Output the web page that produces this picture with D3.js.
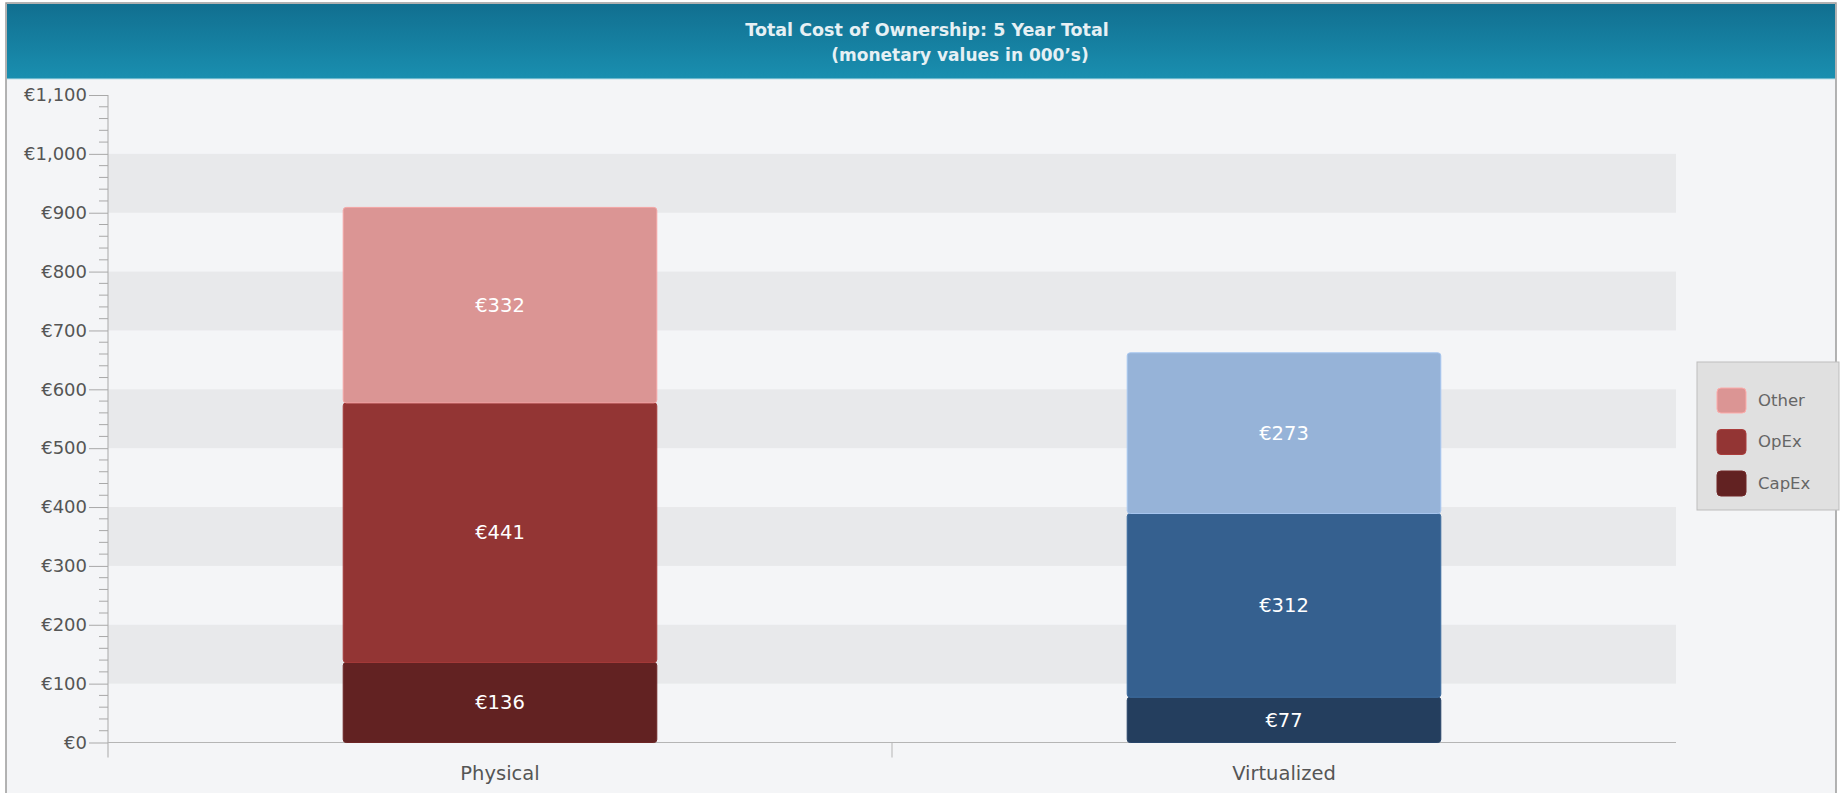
<!DOCTYPE html>
<html>
<head>
<meta charset="utf-8">
<script src="https://cdn.jsdelivr.net/npm/d3@7"></script>
<style>
body { margin: 0; background: #ffffff; }
text { font-family: "DejaVu Sans", sans-serif; }
</style>
</head>
<body>
<svg width="1845" height="793"></svg>
<script>
var svg = d3.select('svg')

var width = +svg.attr('width')
var height = +svg.attr('height')

// data
var categories = ['Physical', 'Virtualized']
var seriesNames = ['CapEx', 'OpEx', 'Other']
var capex = [136, 77]
var opex = [441, 312]
var other = [332, 273]
var yTicks = [0, 100, 200, 300, 400, 500, 600, 700, 800, 900, 1000, 1100]
var legendOrder = ['Other', 'OpEx', 'CapEx']

// [category][series] colours
var colors = {
	Physical: {CapEx: '#622222', OpEx: '#933534', Other: '#db9594'},
	Virtualized: {CapEx: '#243e5e', OpEx: '#35608f', Other: '#96b3d8'}
}

var rows = categories.map(function(c, i) {
	return {cat: c, CapEx: capex[i], OpEx: opex[i], Other: other[i]}
})
var stacked = d3.stack().keys(seriesNames)(rows)

var plot = {left: 108, right: 1676, top: 95, bottom: 742.5}

var x = d3.scaleBand().domain(categories).range([plot.left, plot.right]).padding(0)
var y = d3.scaleLinear().domain([0, 1100]).range([plot.bottom, plot.top])

var fmt = function(v) { return '€' + d3.format(',')(v) }

// background and frame
svg.append('rect').attr('x', 6).attr('y', 3).attr('width', 1830).attr('height', 800)
	.attr('fill', '#f4f5f7').attr('stroke', '#9a9a9a').attr('stroke-width', 1.5)

//Header band
var grad = svg.append('defs').append('linearGradient').attr('id', 'hdr')
	.attr('x1', 0).attr('y1', 0).attr('x2', 0).attr('y2', 1)
grad.append('stop').attr('offset', '0%').attr('stop-color', '#116f90')
grad.append('stop').attr('offset', '100%').attr('stop-color', '#1a8fb0')
svg.append('rect').attr('x', 7).attr('y', 4).attr('width', 1828).attr('height', 75)
	.attr('fill', 'url(#hdr)')
svg.append('line').attr('x1', 7).attr('x2', 1835).attr('y1', 79).attr('y2', 79)
	.attr('stroke', '#bfe0ea').attr('stroke-width', 1)

svg.append('text').attr('x', 927).attr('y', 36).attr('text-anchor', 'middle')
	.attr('fill', '#e6f0f4').attr('font-size', 17.5).attr('font-weight', 'bold')
	.text('Total Cost of Ownership: 5 Year Total')
svg.append('text').attr('x', 960).attr('y', 61).attr('text-anchor', 'middle')
	.attr('fill', '#e6f0f4').attr('font-size', 17).attr('font-weight', 'bold')
	.text('(monetary values in 000\u2019s)')

//Alternating grid bands
var bands = yTicks.filter(function(t, i) { return i % 2 == 1 && t < 1100 })
svg.append('g').selectAll('rect').data(bands).enter().append('rect')
	.attr('x', plot.left).attr('width', plot.right - plot.left)
	.attr('y', function(d) { return y(d + 100) })
	.attr('height', function(d) { return y(d) - y(d + 100) })
	.attr('fill', '#e8e9eb')

//Y axis
var yAxis = svg.append('g').attr('transform', 'translate(' + plot.left + ',0)')
	.call(d3.axisLeft(y).tickValues(yTicks).tickFormat(fmt).tickSize(19).tickPadding(2))
var minor = d3.range(0, 1101, 20).filter(function(v) { return v % 100 != 0 })
yAxis.selectAll('.minor').data(minor).enter().append('line').attr('class', 'minor')
	.attr('x1', -9).attr('x2', 0)
	.attr('y1', function(d) { return y(d) }).attr('y2', function(d) { return y(d) })
yAxis.select('.domain').attr('d', 'M0,' + plot.top + 'V' + (plot.bottom + 15))
yAxis.selectAll('line, path').attr('stroke', '#a9a9a9')
yAxis.selectAll('text').attr('fill', '#555').attr('font-size', 18).attr('font-family', '"DejaVu Sans", sans-serif')

//X axis
svg.append('line').attr('x1', plot.left).attr('x2', plot.right)
	.attr('y1', plot.bottom).attr('y2', plot.bottom).attr('stroke', '#b5b5b5')
svg.append('line').attr('x1', x('Virtualized')).attr('x2', x('Virtualized'))
	.attr('y1', plot.bottom).attr('y2', plot.bottom + 15).attr('stroke', '#b5b5b5')
svg.append('g').selectAll('text').data(categories).enter().append('text')
	.attr('x', function(d) { return x(d) + x.bandwidth() / 2 })
	.attr('y', 780).attr('text-anchor', 'middle')
	.attr('fill', '#555').attr('font-size', 19.5)
	.text(function(d) { return d })

//Stacked bars
var barW = x.bandwidth() * 0.4
var layer = svg.append('g').selectAll('g').data(stacked).enter().append('g')
layer.selectAll('rect').data(function(s) {
		return s.map(function(p) { return {key: s.key, p: p} })
	}).enter().append('rect')
	.attr('x', function(d) { return x(d.p.data.cat) + (x.bandwidth() - barW) / 2 })
	.attr('width', barW)
	.attr('y', function(d) { return y(d.p[1]) })
	.attr('height', function(d) { return y(d.p[0]) - y(d.p[1]) })
	.attr('rx', 3).attr('ry', 3)
	.attr('fill', function(d) { return colors[d.p.data.cat][d.key] })
	.attr('stroke', function(d) { return d3.color(colors[d.p.data.cat][d.key]).brighter(0.3) })
	.attr('stroke-width', 1)
layer.selectAll('text').data(function(s) {
		return s.map(function(p) { return {key: s.key, p: p} })
	}).enter().append('text')
	.attr('x', function(d) { return x(d.p.data.cat) + x.bandwidth() / 2 })
	.attr('y', function(d) { return (y(d.p[0]) + y(d.p[1])) / 2 })
	.attr('dy', '0.35em').attr('text-anchor', 'middle')
	.attr('fill', '#ffffff').attr('font-size', 19.5)
	.text(function(d) { return fmt(d.p.data[d.key]) })

//Legend
var legend = svg.append('g').attr('transform', 'translate(1697,362)')
legend.append('rect').attr('width', 142).attr('height', 148)
	.attr('fill', '#e0e0e0').attr('stroke', '#bdbdbd')
var item = legend.selectAll('g.item').data(legendOrder).enter().append('g')
	.attr('transform', function(d, i) { return 'translate(20,' + (38 + i * 41.5) + ')' })
item.append('rect').attr('x', 0).attr('y', -12).attr('width', 29).attr('height', 25)
	.attr('rx', 4).attr('ry', 4)
	.attr('fill', function(d) { return colors.Physical[d] })
	.attr('stroke', function(d) { return d3.color(colors.Physical[d]).brighter(0.4) })
item.append('text').attr('x', 41).attr('y', 0).attr('dy', '0.35em')
	.attr('fill', '#666').attr('font-size', 16.5)
	.text(function(d) { return d })
</script>
</body>
</html>
